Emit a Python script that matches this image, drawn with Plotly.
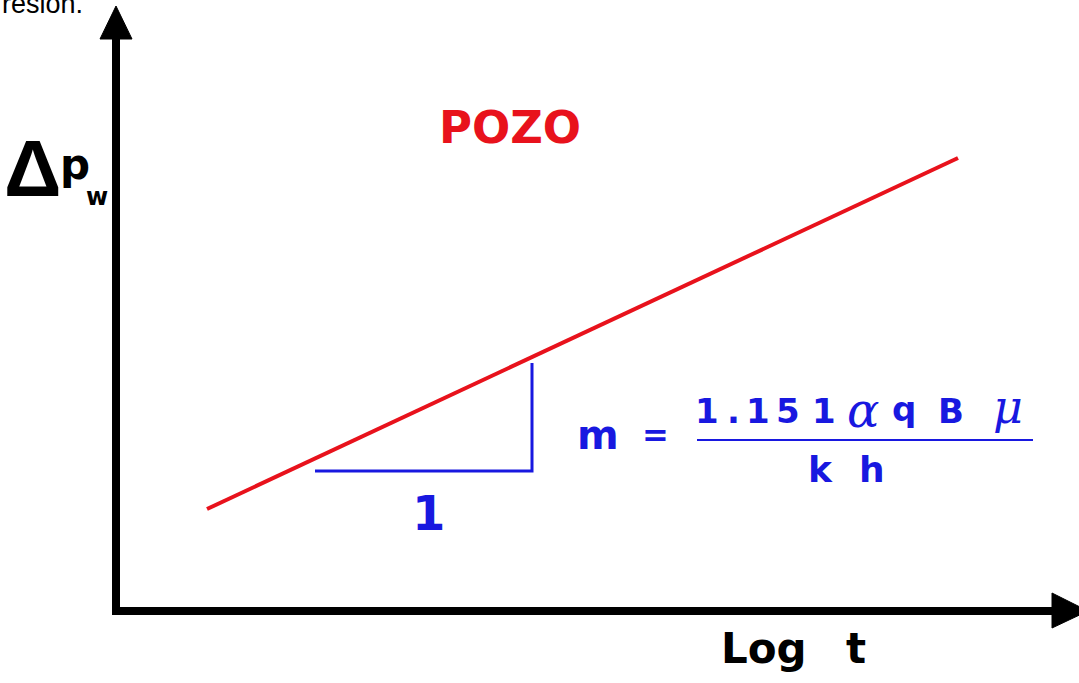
import plotly.graph_objects as go

# Semilog straight line: pressure drop vs log time (arbitrary plotting units,
# origin at the corner of the two axes)
log_t = [91, 842]
delta_p = [102, 453]

# Slope triangle drawn under the line (run, then rise)
slope_x = [199, 416, 416]
slope_y = [140, 140, 248]

RED = "#e8121c"
BLUE = "#1818e0"
BOLD = "DejaVu Sans"
SERIF = "DejaVu Serif"

fig = go.Figure()

fig.add_trace(go.Scatter(
    x=log_t, y=delta_p, mode="lines",
    line=dict(color=RED, width=4), hoverinfo="skip", showlegend=False,
))
fig.add_trace(go.Scatter(
    x=slope_x, y=slope_y, mode="lines",
    line=dict(color=BLUE, width=3), hoverinfo="skip", showlegend=False,
))

# Axis arrows
axis_color = "black"
fig.add_shape(type="line", x0=0, y0=-4, x1=0, y1=574,
              line=dict(color=axis_color, width=8))
fig.add_shape(type="line", x0=-4, y0=0, x1=938, y1=0,
              line=dict(color=axis_color, width=8))
fig.add_shape(type="path", path="M -16,572 L 16,572 L 0,605 Z",
              fillcolor=axis_color, line=dict(color=axis_color, width=1))
fig.add_shape(type="path", path="M 936,18 L 936,-17 L 972,0 Z",
              fillcolor=axis_color, line=dict(color=axis_color, width=1))

# Fraction bar of the slope formula
fig.add_shape(type="line", x0=581, y0=171, x1=917, y1=171,
              line=dict(color=BLUE, width=2))


def label(x, y, text, size, color, family=BOLD, xanchor="center", weight="bold"):
    fig.add_annotation(
        x=x, y=y, text=text, showarrow=False, xanchor=xanchor, yanchor="middle",
        font=dict(family=family, size=size, color=color, weight=weight),
    )


# Caption fragment running off the top edge
label(-116, 607, "resión.", 27, "black", family="Liberation Sans",
      xanchor="left", weight="normal")

# Title of the curve
label(394, 484, "POZO", 45, RED)

# Axis titles
label(-83, 443, "Δ", 80, "black", family="Liberation Sans")
label(-41, 447, "p", 42, "black")
label(-19, 414, "w", 24, "black")
label(648, -37, "Log", 42, "black")
label(740, -37, "t", 42, "black")

# Unit run of the slope triangle
label(312, 98, "1", 48, BLUE)

# Slope formula  m = 1.151 α q B μ / (k h)
label(482, 176, "m", 40, BLUE)
label(539, 176, "=", 32, BLUE)
for ch, xc in [("1", 591), (".", 617), ("1", 642), ("5", 672), ("1", 708)]:
    label(xc, 200, ch, 34, BLUE)
label(747, 201, "<i>α</i>", 48, BLUE, family=SERIF, weight="normal")
label(788, 202, "q", 34, BLUE)
label(835, 200, "B", 34, BLUE)
label(892, 204, "<i>μ</i>", 46, BLUE, family=SERIF, weight="normal")
label(704, 142, "k", 36, BLUE)
label(756, 142, "h", 36, BLUE)

fig.update_layout(
    width=1079, height=683,
    margin=dict(l=0, r=0, t=0, b=0),
    paper_bgcolor="white", plot_bgcolor="white",
    xaxis=dict(range=[-116, 963], visible=False, fixedrange=True),
    yaxis=dict(range=[-72, 611], visible=False, fixedrange=True),
    showlegend=False,
)

fig.write_html("out.html")
